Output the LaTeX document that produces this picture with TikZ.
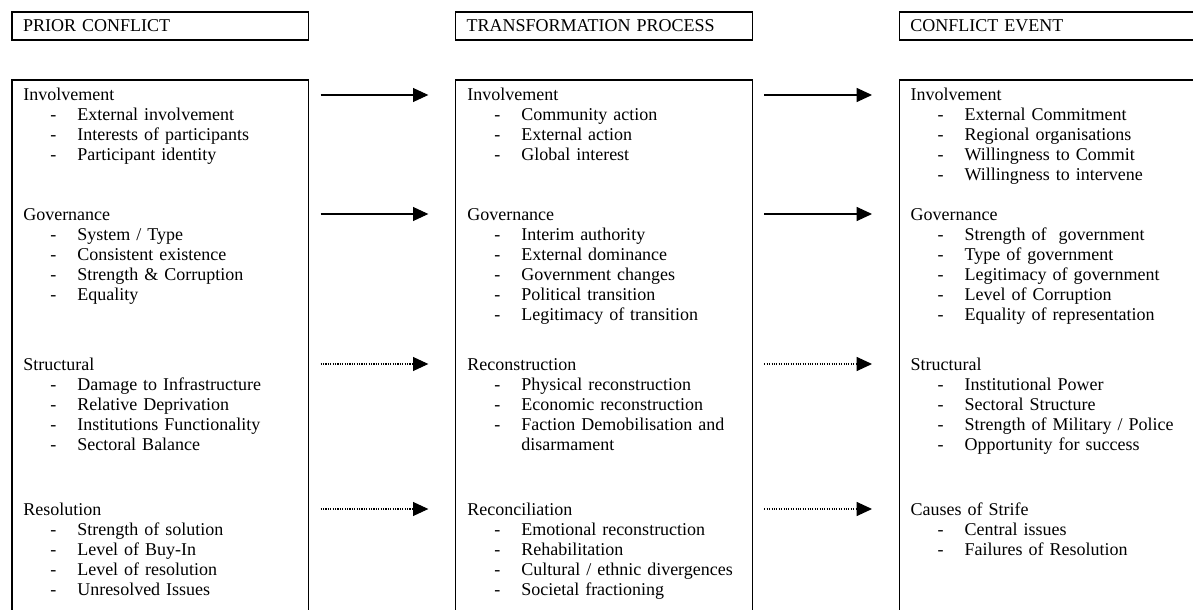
\documentclass[tikz,border=0pt]{standalone}
\usepackage{fontspec}
\setmainfont{Liberation Serif}
\usepackage{tikz}
\usetikzlibrary{arrows.meta, positioning, calc}
\tikzstyle{arrow} = [line width=0.8pt, -{Triangle[length=11.5pt,width=10.5pt]}]
\tikzstyle{dotarrow} = [arrow, densely dotted]
\tikzstyle{header} = [rectangle, draw=black, line width=1pt, outer sep=0pt, inner xsep=8.25pt, inner ysep=0pt, minimum height=21pt, text width=206pt, align=left, font=\fontsize{13.5}{15}\selectfont]
\tikzstyle{column} = [rectangle, draw=black, line width=1pt, outer sep=0pt, minimum width=222.5pt, minimum height=412.5pt]
\tikzstyle{section} = [anchor=base west, inner sep=0pt, text width=205pt, align=left, font=\fontsize{13.5}{15}\selectfont]
\newcommand{\dashitem}[1]{\\\hspace*{20.25pt}\makebox[20.25pt][l]{-}#1}

\begin{document}
\begin{tikzpicture}
    \useasboundingbox (0,0) rectangle (894.75pt,-457.5pt);

    % Headers
    \node[header, anchor=north west] (hPrior) at (9pt,-9pt) {PRIOR CONFLICT};
    \node[header, right=110.25pt of hPrior] (hTrans) {TRANSFORMATION PROCESS};
    \node[header, right=110.25pt of hTrans] (hEvent) {CONFLICT EVENT};

    % Columns
    \node[column, below=30pt of hPrior] (cPrior) {};
    \node[column, below=30pt of hTrans] (cTrans) {};
    \node[column, below=30pt of hEvent] (cEvent) {};

    % Prior conflict
    \node[section] (pInv) at ($(cPrior.north west)+(8.25pt,-15.75pt)$) {Involvement
        \dashitem{External involvement}
        \dashitem{Interests of participants}
        \dashitem{Participant identity}};
    \node[section] (pGov) at ($(cPrior.north west)+(8.25pt,-105pt)$) {Governance
        \dashitem{System / Type}
        \dashitem{Consistent existence}
        \dashitem{Strength \& Corruption}
        \dashitem{Equality}};
    \node[section] (pStr) at ($(cPrior.north west)+(8.25pt,-217.5pt)$) {Structural
        \dashitem{Damage to Infrastructure}
        \dashitem{Relative Deprivation}
        \dashitem{Institutions Functionality}
        \dashitem{Sectoral Balance}};
    \node[section] (pRes) at ($(cPrior.north west)+(8.25pt,-326.25pt)$) {Resolution
        \dashitem{Strength of solution}
        \dashitem{Level of Buy-In}
        \dashitem{Level of resolution}
        \dashitem{Unresolved Issues}};

    % Transformation process
    \node[section] (tInv) at ($(cTrans.north west)+(8.5pt,-15.75pt)$) {Involvement
        \dashitem{Community action}
        \dashitem{External action}
        \dashitem{Global interest}};
    \node[section] (tGov) at ($(cTrans.north west)+(8.5pt,-105pt)$) {Governance
        \dashitem{Interim authority}
        \dashitem{External dominance}
        \dashitem{Government changes}
        \dashitem{Political transition}
        \dashitem{Legitimacy of transition}};
    \node[section] (tRec) at ($(cTrans.north west)+(8.5pt,-217.5pt)$) {Reconstruction
        \dashitem{Physical reconstruction}
        \dashitem{Economic reconstruction}
        \dashitem{Faction Demobilisation and}\\\hspace*{40.5pt}disarmament};
    \node[section] (tRecon) at ($(cTrans.north west)+(8.5pt,-326.25pt)$) {Reconciliation
        \dashitem{Emotional reconstruction}
        \dashitem{Rehabilitation}
        \dashitem{Cultural / ethnic divergences}
        \dashitem{Societal fractioning}};

    % Conflict event
    \node[section] (eInv) at ($(cEvent.north west)+(8.25pt,-15.75pt)$) {Involvement
        \dashitem{External Commitment}
        \dashitem{Regional organisations}
        \dashitem{Willingness to Commit}
        \dashitem{Willingness to intervene}};
    \node[section] (eGov) at ($(cEvent.north west)+(8.25pt,-105pt)$) {Governance
        \dashitem{Strength of\ \ government}
        \dashitem{Type of government}
        \dashitem{Legitimacy of government}
        \dashitem{Level of Corruption}
        \dashitem{Equality of representation}};
    \node[section] (eStr) at ($(cEvent.north west)+(8.25pt,-217.5pt)$) {Structural
        \dashitem{Institutional Power}
        \dashitem{Sectoral Structure}
        \dashitem{Strength of Military / Police}
        \dashitem{Opportunity for success}};
    \node[section] (eCau) at ($(cEvent.north west)+(8.25pt,-326.25pt)$) {Causes of Strife
        \dashitem{Central issues}
        \dashitem{Failures of Resolution}};

    % Arrows
    \draw[arrow] ([xshift=9pt,yshift=4.5pt]pInv.base -| cPrior.east) -- ([xshift=-20.5pt,yshift=4.5pt]tInv.base -| cTrans.west);
    \draw[arrow] ([xshift=9pt,yshift=4.5pt]pGov.base -| cPrior.east) -- ([xshift=-20.5pt,yshift=4.5pt]tGov.base -| cTrans.west);
    \draw[dotarrow] ([xshift=9pt,yshift=4.5pt]pStr.base -| cPrior.east) -- ([xshift=-20.5pt,yshift=4.5pt]tRec.base -| cTrans.west);
    \draw[dotarrow] ([xshift=9pt,yshift=4.5pt]pRes.base -| cPrior.east) -- ([xshift=-20.5pt,yshift=4.5pt]tRecon.base -| cTrans.west);
    \draw[arrow] ([xshift=9pt,yshift=4.5pt]tInv.base -| cTrans.east) -- ([xshift=-20.5pt,yshift=4.5pt]eInv.base -| cEvent.west);
    \draw[arrow] ([xshift=9pt,yshift=4.5pt]tGov.base -| cTrans.east) -- ([xshift=-20.5pt,yshift=4.5pt]eGov.base -| cEvent.west);
    \draw[dotarrow] ([xshift=9pt,yshift=4.5pt]tRec.base -| cTrans.east) -- ([xshift=-20.5pt,yshift=4.5pt]eStr.base -| cEvent.west);
    \draw[dotarrow] ([xshift=9pt,yshift=4.5pt]tRecon.base -| cTrans.east) -- ([xshift=-20.5pt,yshift=4.5pt]eCau.base -| cEvent.west);

\end{tikzpicture}
\end{document}
